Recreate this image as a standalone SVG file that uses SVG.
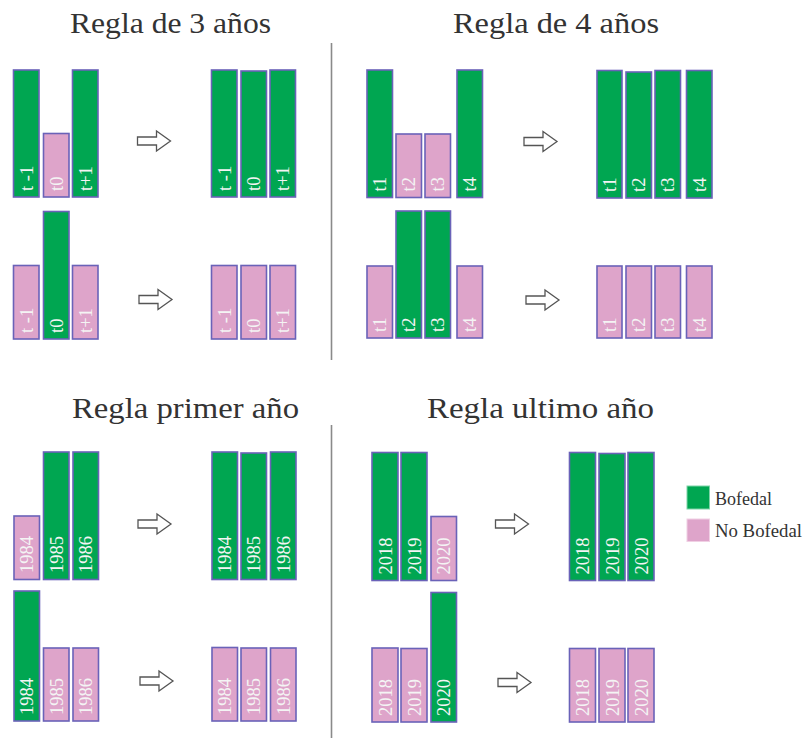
<svg xmlns="http://www.w3.org/2000/svg" width="803" height="738" viewBox="0 0 803 738">
<style>
.g{fill:#00a651;stroke:#6a62b8;stroke-width:1.6}
.p{fill:#dea4ca;stroke:#6a62b8;stroke-width:1.6}
.lb{font-family:"Liberation Serif","DejaVu Serif",serif;font-size:18.5px;fill:#f4f4f4}
.t{font-family:"Liberation Serif","DejaVu Serif",serif;font-size:30px;fill:#333}
.leg{font-family:"Liberation Serif","DejaVu Serif",serif;font-size:18px;fill:#333}
.arr{fill:#fff;stroke:#555;stroke-width:1.3;stroke-linejoin:miter}
.div{stroke:#8a8a8a;stroke-width:1.6}
</style>
<defs>
<path id="arrow" d="M0,6 H19 V0 L33,10 L19,20 V14 H0 Z"/>
</defs>
<rect width="803" height="738" fill="#fff"/>

<g id="titles">
<text class="t" x="70" y="33" textLength="201" lengthAdjust="spacingAndGlyphs">Regla de 3 años</text>
<text class="t" x="453" y="33" textLength="206" lengthAdjust="spacingAndGlyphs">Regla de 4 años</text>
<text class="t" x="72" y="418" textLength="227" lengthAdjust="spacingAndGlyphs">Regla primer año</text>
<text class="t" x="427" y="418" textLength="227" lengthAdjust="spacingAndGlyphs">Regla ultimo año</text>
</g>

<g id="dividers">
<line class="div" x1="331.5" y1="43" x2="331.5" y2="360"/>
<line class="div" x1="331.5" y1="425" x2="331.5" y2="738"/>
</g>

<!-- Regla de 3 años, row 1 -->
<g id="r3-a-in">
<rect class="g" x="13.5" y="70" width="25.5" height="127"/><text class="lb" transform="translate(32.8,191) rotate(-90)">t -1</text>
<rect class="p" x="43.5" y="133.5" width="25.5" height="63.5"/><text class="lb" transform="translate(62.8,191) rotate(-90)">t0</text>
<rect class="g" x="72.5" y="70" width="25.5" height="127"/><text class="lb" transform="translate(91.8,191) rotate(-90)">t+1</text>
</g>
<g id="r3-a-out">
<rect class="g" x="211.5" y="70" width="25.5" height="127"/><text class="lb" transform="translate(230.8,191) rotate(-90)">t -1</text>
<rect class="g" x="241" y="71" width="25.5" height="126"/><text class="lb" transform="translate(260.3,191) rotate(-90)">t0</text>
<rect class="g" x="270" y="70" width="25.5" height="127"/><text class="lb" transform="translate(289.3,191) rotate(-90)">t+1</text>
</g>
<!-- row 2 -->
<g id="r3-b-in">
<rect class="p" x="13.5" y="265.5" width="25.5" height="73.5"/><text class="lb" transform="translate(32.8,333) rotate(-90)">t -1</text>
<rect class="g" x="43.5" y="211.5" width="25.5" height="127.5"/><text class="lb" transform="translate(62.8,333) rotate(-90)">t0</text>
<rect class="p" x="72.5" y="265.5" width="25.5" height="73.5"/><text class="lb" transform="translate(91.8,333) rotate(-90)">t+1</text>
</g>
<g id="r3-b-out">
<rect class="p" x="211.5" y="265.5" width="25.5" height="73.5"/><text class="lb" transform="translate(230.8,333) rotate(-90)">t -1</text>
<rect class="p" x="241" y="265.5" width="25.5" height="73.5"/><text class="lb" transform="translate(260.3,333) rotate(-90)">t0</text>
<rect class="p" x="270" y="265.5" width="25.5" height="73.5"/><text class="lb" transform="translate(289.3,333) rotate(-90)">t+1</text>
</g>

<!-- Regla de 4 años, row 1 -->
<g id="r4-a-in">
<rect class="g" x="367" y="70" width="25.5" height="127.5"/><text class="lb" transform="translate(386.3,191.5) rotate(-90)">t1</text>
<rect class="p" x="396" y="134" width="25.5" height="63.5"/><text class="lb" transform="translate(415.3,191.5) rotate(-90)">t2</text>
<rect class="p" x="425" y="134" width="25.5" height="63.5"/><text class="lb" transform="translate(444.3,191.5) rotate(-90)">t3</text>
<rect class="g" x="457" y="70" width="25.5" height="127.5"/><text class="lb" transform="translate(476.3,191.5) rotate(-90)">t4</text>
</g>
<g id="r4-a-out">
<rect class="g" x="597" y="70.5" width="25" height="127.5"/><text class="lb" transform="translate(616,192) rotate(-90)">t1</text>
<rect class="g" x="626" y="72" width="25.5" height="126"/><text class="lb" transform="translate(645.3,192) rotate(-90)">t2</text>
<rect class="g" x="655" y="70.5" width="25.5" height="127.5"/><text class="lb" transform="translate(674.3,192) rotate(-90)">t3</text>
<rect class="g" x="686.5" y="70.5" width="25.5" height="127.5"/><text class="lb" transform="translate(705.8,192) rotate(-90)">t4</text>
</g>
<!-- row 2 -->
<g id="r4-b-in">
<rect class="p" x="367" y="266" width="25.5" height="72"/><text class="lb" transform="translate(386.3,332) rotate(-90)">t1</text>
<rect class="g" x="396" y="211" width="25.5" height="127"/><text class="lb" transform="translate(415.3,332) rotate(-90)">t2</text>
<rect class="g" x="425" y="211" width="25.5" height="127"/><text class="lb" transform="translate(444.3,332) rotate(-90)">t3</text>
<rect class="p" x="457" y="266" width="25.5" height="72"/><text class="lb" transform="translate(476.3,332) rotate(-90)">t4</text>
</g>
<g id="r4-b-out">
<rect class="p" x="597" y="266" width="25" height="72"/><text class="lb" transform="translate(616,332) rotate(-90)">t1</text>
<rect class="p" x="626" y="266" width="25.5" height="72"/><text class="lb" transform="translate(645.3,332) rotate(-90)">t2</text>
<rect class="p" x="655" y="266" width="25.5" height="72"/><text class="lb" transform="translate(674.3,332) rotate(-90)">t3</text>
<rect class="p" x="686.5" y="266" width="25.5" height="72"/><text class="lb" transform="translate(705.8,332) rotate(-90)">t4</text>
</g>

<!-- Regla primer año, row 1 -->
<g id="rp-a-in">
<rect class="p" x="14" y="516" width="25.5" height="63.5"/><text class="lb" transform="translate(33.3,573) rotate(-90)">1984</text>
<rect class="g" x="43.5" y="452" width="25.5" height="127.5"/><text class="lb" transform="translate(62.8,573) rotate(-90)">1985</text>
<rect class="g" x="73" y="452" width="25.5" height="127.5"/><text class="lb" transform="translate(92.3,573) rotate(-90)">1986</text>
</g>
<g id="rp-a-out">
<rect class="g" x="212" y="452" width="25.5" height="127.5"/><text class="lb" transform="translate(231.3,573) rotate(-90)">1984</text>
<rect class="g" x="241" y="453" width="25.5" height="126.5"/><text class="lb" transform="translate(260.3,573) rotate(-90)">1985</text>
<rect class="g" x="270.5" y="452" width="25.5" height="127.5"/><text class="lb" transform="translate(289.8,573) rotate(-90)">1986</text>
</g>
<!-- row 2 -->
<g id="rp-b-in">
<rect class="g" x="14" y="591" width="25.5" height="130"/><text class="lb" transform="translate(33.3,715) rotate(-90)">1984</text>
<rect class="p" x="43.5" y="648" width="25.5" height="73"/><text class="lb" transform="translate(62.8,715) rotate(-90)">1985</text>
<rect class="p" x="73" y="648" width="25.5" height="73"/><text class="lb" transform="translate(92.3,715) rotate(-90)">1986</text>
</g>
<g id="rp-b-out">
<rect class="p" x="212" y="647.5" width="25.5" height="73.5"/><text class="lb" transform="translate(231.3,715) rotate(-90)">1984</text>
<rect class="p" x="241" y="648" width="25.5" height="73"/><text class="lb" transform="translate(260.3,715) rotate(-90)">1985</text>
<rect class="p" x="270.5" y="648" width="25.5" height="73"/><text class="lb" transform="translate(289.8,715) rotate(-90)">1986</text>
</g>

<!-- Regla ultimo año, row 1 -->
<g id="ru-a-in">
<rect class="g" x="372" y="452.5" width="26" height="128"/><text class="lb" transform="translate(391.5,574.5) rotate(-90)">2018</text>
<rect class="g" x="401" y="452.5" width="26" height="128"/><text class="lb" transform="translate(420.5,574.5) rotate(-90)">2019</text>
<rect class="p" x="431" y="516.5" width="25.5" height="64"/><text class="lb" transform="translate(450.3,574.5) rotate(-90)">2020</text>
</g>
<g id="ru-a-out">
<rect class="g" x="569.5" y="452.5" width="26" height="128"/><text class="lb" transform="translate(589,574.5) rotate(-90)">2018</text>
<rect class="g" x="599" y="453.5" width="26" height="127"/><text class="lb" transform="translate(618.5,574.5) rotate(-90)">2019</text>
<rect class="g" x="628" y="452.5" width="26" height="128"/><text class="lb" transform="translate(647.5,574.5) rotate(-90)">2020</text>
</g>
<!-- row 2 -->
<g id="ru-b-in">
<rect class="p" x="372" y="648" width="26" height="74"/><text class="lb" transform="translate(391.5,716) rotate(-90)">2018</text>
<rect class="p" x="401" y="648.5" width="26" height="73.5"/><text class="lb" transform="translate(420.5,716) rotate(-90)">2019</text>
<rect class="g" x="431" y="592.5" width="25.5" height="129.5"/><text class="lb" transform="translate(450.3,716) rotate(-90)">2020</text>
</g>
<g id="ru-b-out">
<rect class="p" x="569.5" y="648.5" width="26" height="73.5"/><text class="lb" transform="translate(589,716) rotate(-90)">2018</text>
<rect class="p" x="599" y="648.5" width="26" height="73.5"/><text class="lb" transform="translate(618.5,716) rotate(-90)">2019</text>
<rect class="p" x="628" y="648.5" width="26" height="73.5"/><text class="lb" transform="translate(647.5,716) rotate(-90)">2020</text>
</g>

<g id="connectors">
<use href="#arrow" class="arr" x="137.5" y="131"/>
<use href="#arrow" class="arr" x="139" y="289.5"/>
<use href="#arrow" class="arr" x="524" y="131.5"/>
<use href="#arrow" class="arr" x="526" y="290"/>
<use href="#arrow" class="arr" x="138" y="514"/>
<use href="#arrow" class="arr" x="140" y="671"/>
<use href="#arrow" class="arr" x="495.5" y="514"/>
<use href="#arrow" class="arr" x="498" y="672.5"/>
</g>

<g id="legend">
<rect x="687" y="486" width="22.5" height="23" fill="#00a651" stroke="#7fd3a8" stroke-width="1"/>
<text class="leg" x="715" y="505">Bofedal</text>
<rect x="687" y="519" width="22.5" height="22.5" fill="#dea4ca" stroke="#f0d0e4" stroke-width="1"/>
<text class="leg" x="715" y="537" textLength="87" lengthAdjust="spacingAndGlyphs">No Bofedal</text>
</g>
</svg>
